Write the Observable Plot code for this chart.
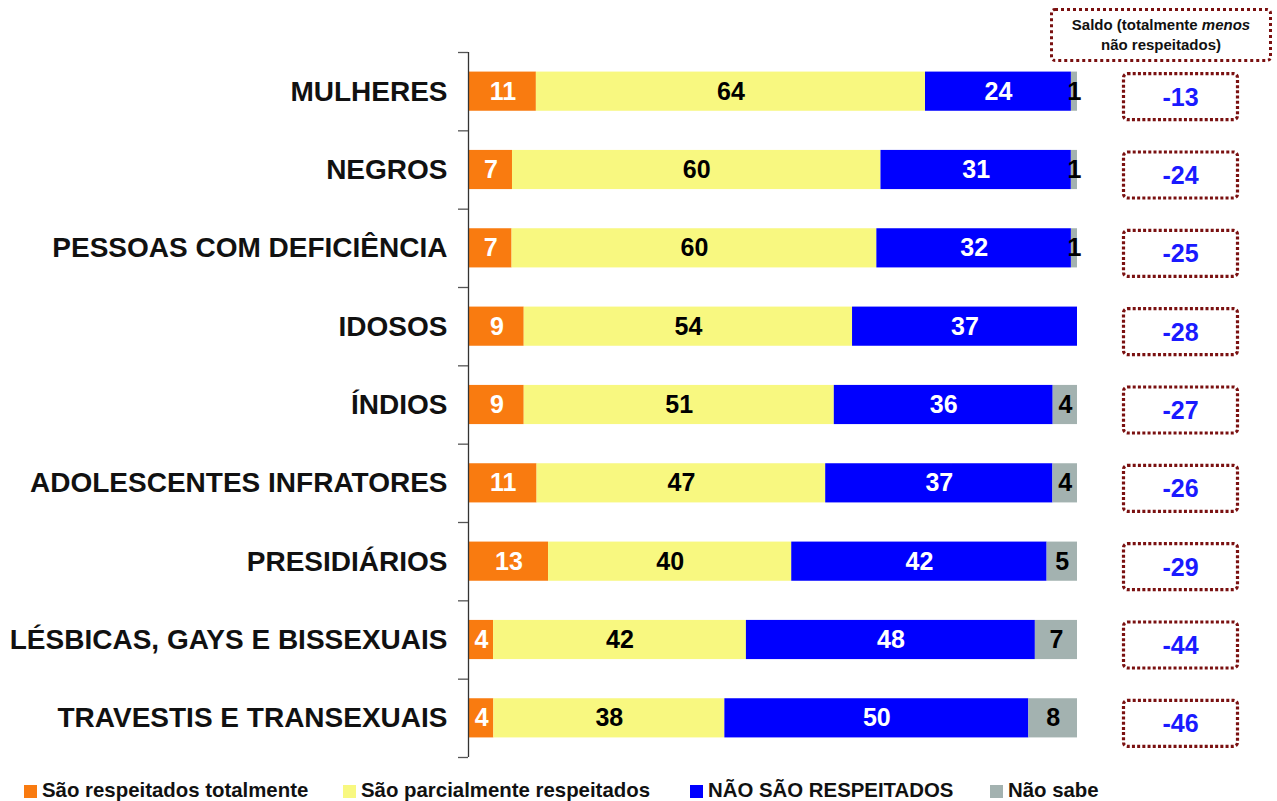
<!DOCTYPE html>
<html>
<head>
<meta charset="utf-8">
<script src="https://cdn.jsdelivr.net/npm/d3@7"></script>
<script src="https://cdn.jsdelivr.net/npm/@observablehq/plot@0.6"></script>
<style>
  html, body { margin: 0; padding: 0; background: #fff; }
  #wrap { position: relative; width: 1277px; height: 801px; overflow: hidden; font-family: "Liberation Sans", Arial, sans-serif; }
  #header { position: absolute; left: 1050px; top: 8px; width: 216px; border: 3px dotted #7a1010; border-radius: 5px;
    font-weight: bold; font-size: 15px; line-height: 20px; text-align: center; color: #111; padding-top: 4px; box-sizing: content-box; height: 44px; }
  .leg { position: absolute; top: 778px; font-weight: bold; font-size: 20.4px; color: #111; white-space: nowrap; line-height: 24px; }
  .leg i { display: inline-block; width: 13px; height: 13px; margin-right: 5px; vertical-align: -1px; }
</style>
</head>
<body>
<div id="wrap"></div>
<script>
const categories = [
  "MULHERES", "NEGROS", "PESSOAS COM DEFICIÊNCIA", "IDOSOS", "ÍNDIOS",
  "ADOLESCENTES INFRATORES", "PRESIDIÁRIOS", "LÉSBICAS, GAYS E BISSEXUAIS", "TRAVESTIS E TRANSEXUAIS"
];
const series = ["São respeitados totalmente", "São parcialmente respeitados", "NÃO SÃO RESPEITADOS", "Não sabe"];
const totalmente     = [11, 7, 7, 9, 9, 11, 13, 4, 4];
const parcialmente   = [64, 60, 60, 54, 51, 47, 40, 42, 38];
const naoRespeitados = [24, 31, 32, 37, 36, 37, 42, 48, 50];
const naoSabe        = [1, 1, 1, 0, 4, 4, 5, 7, 8];
const saldo          = [-13, -24, -25, -28, -27, -26, -29, -44, -46];
const colors = ["#f97b10", "#f8f880", "#0000ff", "#a3b2b0"];

const seriesValues = [totalmente, parcialmente, naoRespeitados, naoSabe];
const rows = [];
categories.forEach((c, i) => {
  seriesValues.forEach((vals, s) => rows.push({cat: c, s, series: series[s], v: vals[i]}));
});
const saldoRows = categories.map((c, i) => ({cat: c, v: saldo[i]}));

const width = 1277, height = 775;
const marginLeft = 469, marginRight = 200, marginTop = 52, marginBottom = 18;
const plotW = width - marginLeft - marginRight;
const step = (height - marginTop - marginBottom) / categories.length;
const tickLen = 10 / plotW;

const boxSymbol = {
  draw(ctx) {
    const w = 114, h = 46, r = 4, x0 = -w / 2, y0 = -h / 2;
    ctx.moveTo(x0 + r, y0);
    ctx.lineTo(x0 + w - r, y0);
    ctx.arcTo(x0 + w, y0, x0 + w, y0 + r, r);
    ctx.lineTo(x0 + w, y0 + h - r);
    ctx.arcTo(x0 + w, y0 + h, x0 + w - r, y0 + h, r);
    ctx.lineTo(x0 + r, y0 + h);
    ctx.arcTo(x0, y0 + h, x0, y0 + h - r, r);
    ctx.lineTo(x0, y0 + r);
    ctx.arcTo(x0, y0, x0 + r, y0, r);
    ctx.closePath();
  }
};

const stackOpts = {x: "v", y: "cat", z: "series", offset: "normalize"};

const chart = Plot.plot({
  width, height, marginLeft, marginRight, marginTop, marginBottom,
  style: {fontFamily: "'Liberation Sans', Arial, sans-serif", background: "transparent"},
  x: {domain: [0, 1], axis: null},
  y: {domain: categories, paddingInner: 0.5, paddingOuter: 0.25, round: false, label: null},
  color: {domain: series, range: colors},
  marks: [
    Plot.barX(rows, Plot.stackX({...stackOpts, fill: "series"})),
    Plot.text(rows, Plot.stackX({...stackOpts, text: d => (d.s === 0 || d.s === 2) && d.v > 0 ? String(d.v) : null,
      fill: "white", fontSize: 25, fontWeight: "bold"})),
    Plot.text(rows, Plot.stackX({...stackOpts, text: d => (d.s === 1 || d.s === 3) && d.v > 0 ? String(d.v) : null,
      fill: "black", fontSize: 25, fontWeight: "bold"})),
    Plot.ruleX([0], {stroke: "#333", strokeWidth: 1.3, dx: -1}),
    Plot.ruleY(categories, {y: d => d, x1: -tickLen, x2: 0, dx: -1, dy: -step / 2, stroke: "#555", strokeWidth: 1.3}),
    Plot.ruleY([categories[categories.length - 1]], {y: d => d, x1: -tickLen, x2: 0, dx: -1, dy: step / 2, stroke: "#555", strokeWidth: 1.3}),
    Plot.axisY({tickSize: 0, tickPadding: 22, fontSize: 28, fontWeight: "bold", fill: "#111", label: null}),
    Plot.dot(saldoRows, {y: "cat", frameAnchor: "right", dx: 103, dy: 5, symbol: boxSymbol, r: 5,
      fill: "none", stroke: "#7a1010", strokeWidth: 3.2, strokeDasharray: "3 2.2"}),
    Plot.text(saldoRows, {y: "cat", text: d => String(d.v), frameAnchor: "right", textAnchor: "middle", dx: 103, dy: 6,
      fill: "#1a1aff", fontSize: 25, fontWeight: "bold"})
  ]
});

const wrap = document.getElementById("wrap");
chart.style.position = "absolute";
chart.style.left = "0px";
chart.style.top = "0px";
chart.style.overflow = "visible";
wrap.appendChild(chart);

const header = document.createElement("div");
header.id = "header";
header.innerHTML = "Saldo (totalmente <i>menos</i><br>não respeitados)";
wrap.appendChild(header);

const legendLeft = [24, 343, 690, 990];
series.forEach((s, i) => {
  const el = document.createElement("div");
  el.className = "leg";
  el.style.left = legendLeft[i] + "px";
  const sw = document.createElement("i");
  sw.style.background = colors[i];
  el.appendChild(sw);
  el.appendChild(document.createTextNode(s));
  wrap.appendChild(el);
});
</script>
</body>
</html>
